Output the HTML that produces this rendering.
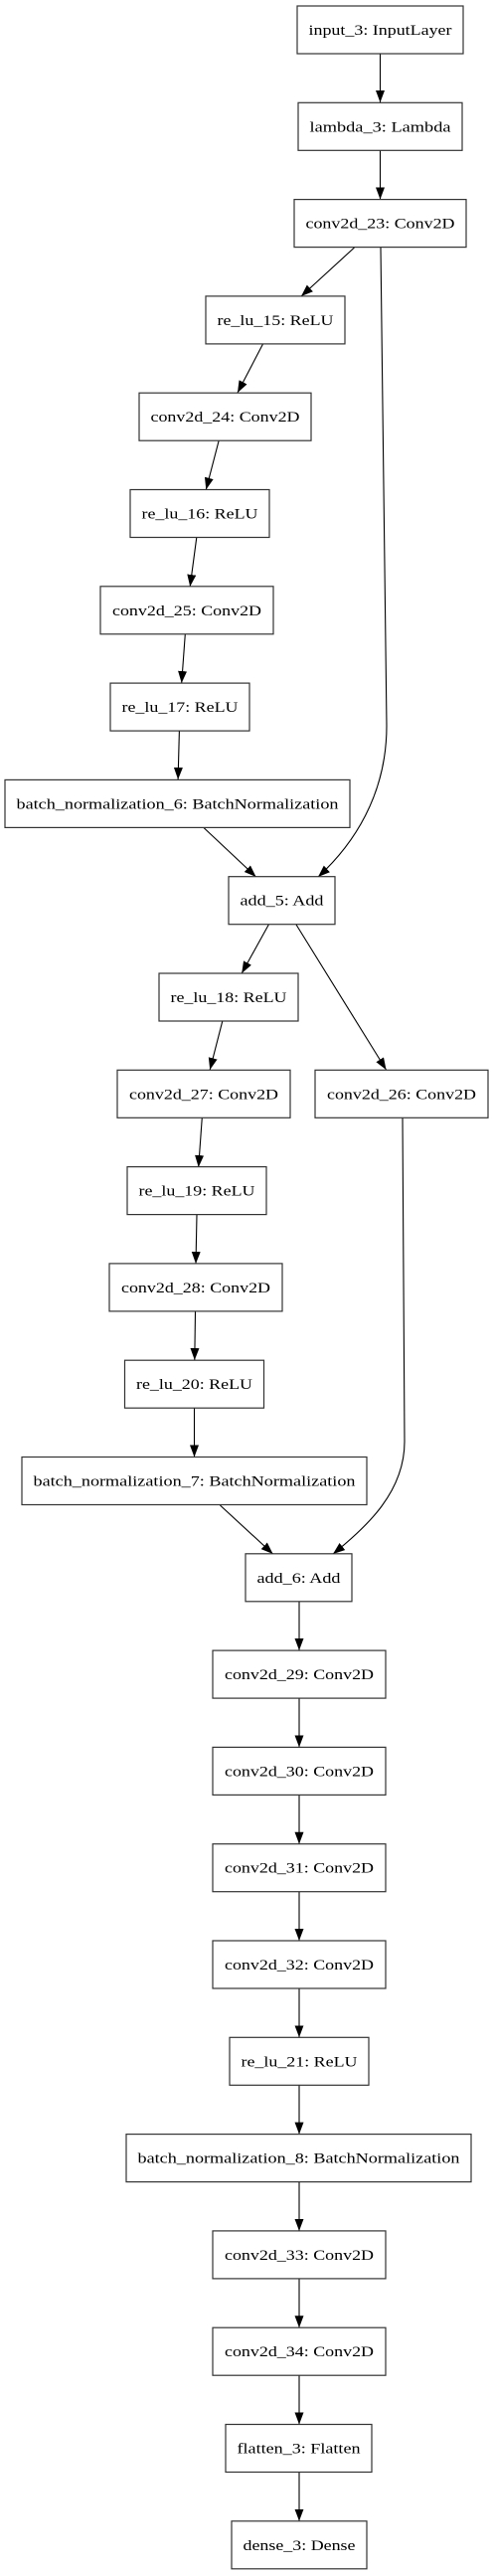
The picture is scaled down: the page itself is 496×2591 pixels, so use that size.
<!DOCTYPE html>
<html><head><meta charset="utf-8"><style>
html,body{margin:0;padding:0;background:#fff;}
svg{display:block;}
text{font-family:"Liberation Serif",serif;font-size:15px;fill:#000;}
rect{fill:#fff;stroke:#333;stroke-width:1.2;}
.e{stroke:#000;stroke-width:1.1;fill:none;marker-end:url(#a);}
</style></head><body>
<svg width="496" height="2591" viewBox="0 0 496 2591" xmlns="http://www.w3.org/2000/svg">
<defs><marker id="a" markerUnits="userSpaceOnUse" markerWidth="13" markerHeight="10" refX="12" refY="4.5" orient="auto"><path d="M0,0 L12,4.5 L0,9 z" fill="#000"/></marker></defs>

<path class="e" d="M382.5,54 L382.5,103"/>
<path class="e" d="M382.5,151 L382.5,200.5"/>
<path class="e" d="M356.5,249 L303,298"/>
<path class="e" d="M264.5,346 L239,395"/>
<path class="e" d="M220.2,443 L207.3,492.5"/>
<path class="e" d="M197.8,540.5 L191.2,590"/>
<path class="e" d="M186.3,638 L182.7,687"/>
<path class="e" d="M180.4,735 L179.1,784"/>
<path class="e" d="M204.4,832 L257.6,882"/>
<path class="e" d="M383,249 C386,450 389,650 389,730 C389,800 355,850 320,882"/>
<path class="e" d="M270.3,930 L243.2,979"/>
<path class="e" d="M298,930 L388.5,1076"/>
<path class="e" d="M223.8,1027 L211.2,1076"/>
<path class="e" d="M203.3,1124 L199.7,1174"/>
<path class="e" d="M198,1222 L197,1271"/>
<path class="e" d="M196.5,1319 L195.8,1368"/>
<path class="e" d="M195.5,1416 L195.5,1465.5"/>
<path class="e" d="M221.4,1514 L274.6,1563"/>
<path class="e" d="M405,1124 C407,1300 407,1400 407,1450 C407,1500 370,1535 335,1563"/>
<path class="e" d="M301,1611 L301,1660"/>
<path class="e" d="M301,1708 L301,1757.4"/>
<path class="e" d="M301,1805.4 L301,1854.7"/>
<path class="e" d="M301,1902.7 L301,1952"/>
<path class="e" d="M301,2000 L301,2049.3"/>
<path class="e" d="M301,2097.3 L301,2146.6"/>
<path class="e" d="M301,2194.6 L301,2243.9"/>
<path class="e" d="M301,2291.9 L301,2341.2"/>
<path class="e" d="M301,2389.2 L301,2438.5"/>
<path class="e" d="M301,2486.5 L301,2535.8"/>

<rect x="299" y="6" width="167" height="48"/><text x="382.5" y="35" text-anchor="middle" textLength="144" lengthAdjust="spacingAndGlyphs">input_3: InputLayer</text>
<rect x="300" y="103.3" width="165" height="48"/><text x="382.5" y="132.3" text-anchor="middle" textLength="142" lengthAdjust="spacingAndGlyphs">lambda_3: Lambda</text>
<rect x="296" y="200.6" width="173" height="48"/><text x="382.5" y="229.6" text-anchor="middle" textLength="150" lengthAdjust="spacingAndGlyphs">conv2d_23: Conv2D</text>
<rect x="207" y="297.9" width="140" height="48"/><text x="277" y="326.9" text-anchor="middle" textLength="117" lengthAdjust="spacingAndGlyphs">re_lu_15: ReLU</text>
<rect x="140" y="395.2" width="173" height="48"/><text x="226.5" y="424.2" text-anchor="middle" textLength="150" lengthAdjust="spacingAndGlyphs">conv2d_24: Conv2D</text>
<rect x="131" y="492.5" width="140" height="48"/><text x="201" y="521.5" text-anchor="middle" textLength="117" lengthAdjust="spacingAndGlyphs">re_lu_16: ReLU</text>
<rect x="101" y="589.8" width="174" height="48"/><text x="188" y="618.8" text-anchor="middle" textLength="150" lengthAdjust="spacingAndGlyphs">conv2d_25: Conv2D</text>
<rect x="111" y="687.1" width="140" height="48"/><text x="181" y="716.1" text-anchor="middle" textLength="117" lengthAdjust="spacingAndGlyphs">re_lu_17: ReLU</text>
<rect x="5" y="784.4" width="347" height="48"/><text x="178.5" y="813.4" text-anchor="middle" textLength="324" lengthAdjust="spacingAndGlyphs">batch_normalization_6: BatchNormalization</text>
<rect x="230" y="881.7" width="107" height="48"/><text x="283.5" y="910.7" text-anchor="middle" textLength="84" lengthAdjust="spacingAndGlyphs">add_5: Add</text>
<rect x="160" y="979" width="140" height="48"/><text x="230" y="1008" text-anchor="middle" textLength="117" lengthAdjust="spacingAndGlyphs">re_lu_18: ReLU</text>
<rect x="118" y="1076.3" width="174" height="48"/><text x="205" y="1105.3" text-anchor="middle" textLength="150" lengthAdjust="spacingAndGlyphs">conv2d_27: Conv2D</text>
<rect x="317" y="1076.3" width="174" height="48"/><text x="404" y="1105.3" text-anchor="middle" textLength="150" lengthAdjust="spacingAndGlyphs">conv2d_26: Conv2D</text>
<rect x="128" y="1173.6" width="140" height="48"/><text x="198" y="1202.6" text-anchor="middle" textLength="117" lengthAdjust="spacingAndGlyphs">re_lu_19: ReLU</text>
<rect x="110" y="1270.9" width="174" height="48"/><text x="197" y="1299.9" text-anchor="middle" textLength="150" lengthAdjust="spacingAndGlyphs">conv2d_28: Conv2D</text>
<rect x="125.5" y="1368.2" width="140" height="48"/><text x="195.5" y="1397.2" text-anchor="middle" textLength="117" lengthAdjust="spacingAndGlyphs">re_lu_20: ReLU</text>
<rect x="22" y="1465.5" width="347" height="48"/><text x="195.5" y="1494.5" text-anchor="middle" textLength="324" lengthAdjust="spacingAndGlyphs">batch_normalization_7: BatchNormalization</text>
<rect x="247" y="1562.8" width="107" height="48"/><text x="300.5" y="1591.8" text-anchor="middle" textLength="84" lengthAdjust="spacingAndGlyphs">add_6: Add</text>
<rect x="214" y="1660.1" width="174" height="48"/><text x="301" y="1689.1" text-anchor="middle" textLength="150" lengthAdjust="spacingAndGlyphs">conv2d_29: Conv2D</text>
<rect x="214" y="1757.4" width="174" height="48"/><text x="301" y="1786.4" text-anchor="middle" textLength="150" lengthAdjust="spacingAndGlyphs">conv2d_30: Conv2D</text>
<rect x="214" y="1854.7" width="174" height="48"/><text x="301" y="1883.7" text-anchor="middle" textLength="150" lengthAdjust="spacingAndGlyphs">conv2d_31: Conv2D</text>
<rect x="214" y="1952" width="174" height="48"/><text x="301" y="1981" text-anchor="middle" textLength="150" lengthAdjust="spacingAndGlyphs">conv2d_32: Conv2D</text>
<rect x="231" y="2049.3" width="140" height="48"/><text x="301" y="2078.3" text-anchor="middle" textLength="117" lengthAdjust="spacingAndGlyphs">re_lu_21: ReLU</text>
<rect x="127" y="2146.6" width="347" height="48"/><text x="300.5" y="2175.6" text-anchor="middle" textLength="324" lengthAdjust="spacingAndGlyphs">batch_normalization_8: BatchNormalization</text>
<rect x="214" y="2243.9" width="174" height="48"/><text x="301" y="2272.9" text-anchor="middle" textLength="150" lengthAdjust="spacingAndGlyphs">conv2d_33: Conv2D</text>
<rect x="214" y="2341.2" width="174" height="48"/><text x="301" y="2370.2" text-anchor="middle" textLength="150" lengthAdjust="spacingAndGlyphs">conv2d_34: Conv2D</text>
<rect x="227" y="2438.5" width="147" height="48"/><text x="300.5" y="2467.5" text-anchor="middle" textLength="124" lengthAdjust="spacingAndGlyphs">flatten_3: Flatten</text>
<rect x="233" y="2535.8" width="136" height="48"/><text x="301" y="2564.8" text-anchor="middle" textLength="113" lengthAdjust="spacingAndGlyphs">dense_3: Dense</text>
</svg>
</body></html>
